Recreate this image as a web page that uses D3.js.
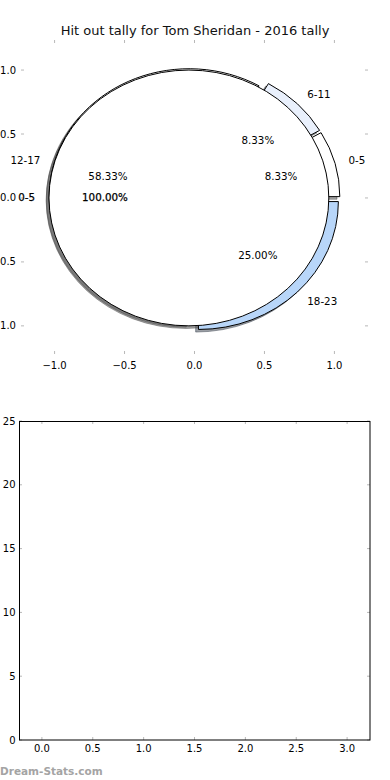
<!DOCTYPE html>
<html>
<head>
<meta charset="utf-8">
<script src="https://cdnjs.cloudflare.com/ajax/libs/d3/7.8.5/d3.min.js"></script>
<style>
  body { margin: 0; background: #fff; }
  svg { display: block; font-family: "DejaVu Sans", sans-serif; }
</style>
</head>
<body>
<svg id="chart" width="390" height="780"></svg>
<script>
// data
var titleText = "Hit out tally for Tom Sheridan - 2016 tally";
var quarterLabels = ["0-5", "6-11", "12-17", "18-23"]; // inner pie slices
var quarterHitouts = [1, 1, 7, 3];
var quarterColors = ["#ffffff", "#e9f0fc", "#ffffff", "#b8d6f9"];
var totalLabels = ["0-5"]; // the single 100% pie drawn on top
var totalHitouts = [12];
var totalColors = ["#ffffff"];
var explodeBy = 0.04;
var pieTicks = [-1, -0.5, 0, 0.5, 1];

var barCategories = [0, 1, 2, 3]; // lower chart is empty
var barValues = [0, 0, 0, 0];
var barXTicks = [0, 0.5, 1, 1.5, 2, 2.5, 3];
var barYTicks = [0, 5, 10, 15, 20, 25];

var svg = d3.select("#chart");
var tickGray = "#b8b8b8";
var fmt = v => d3.format(".1f")(v).replace("-", "\u2212");

svg.append("text").attr("x", 195).attr("y", 35).attr("text-anchor", "middle")
  .attr("font-size", 13).attr("fill", "#111").text(titleText);

// ---------- top: pie axes ----------
var px = d3.scaleLinear().domain([-1.24, 1.24]).range([21, 368]);
var py = d3.scaleLinear().domain([-1.22, 1.235]).range([354, 40]);
var sx = px(1) - px(0), sy = py(0) - py(1);

var pieG = svg.append("g");

// inward gray ticks on all four sides, no frame
pieTicks.forEach(t => {
  pieG.append("line").attr("x1", px(t)).attr("x2", px(t)).attr("y1", 40).attr("y2", 43).attr("stroke", tickGray);
  pieG.append("line").attr("x1", px(t)).attr("x2", px(t)).attr("y1", 354).attr("y2", 351).attr("stroke", tickGray);
  pieG.append("line").attr("y1", py(t)).attr("y2", py(t)).attr("x1", 21).attr("x2", 24).attr("stroke", tickGray);
  pieG.append("line").attr("y1", py(t)).attr("y2", py(t)).attr("x1", 368).attr("x2", 365).attr("stroke", tickGray);
  pieG.append("text").attr("x", px(t)).attr("y", 369).attr("text-anchor", "middle")
    .attr("font-size", 10).text(fmt(t));
  pieG.append("text").attr("x", 16).attr("y", py(t) + 3.5).attr("text-anchor", "end")
    .attr("font-size", 10).text(fmt(t));
});

// matplotlib-style wedges: counterclockwise from 3 o'clock, exploded along mid angle
function buildWedges(labels, values, colors) {
  var total = d3.sum(values), cum = 0;
  return values.map((v, i) => {
    var t1 = cum / total * 2 * Math.PI;
    cum += v;
    var t2 = cum / total * 2 * Math.PI;
    var tm = (t1 + t2) / 2;
    return { label: labels[i], value: v, pct: v / total * 100, color: colors[i],
      t1: t1, t2: t2, tm: tm, cx: explodeBy * Math.cos(tm), cy: explodeBy * Math.sin(tm) };
  });
}

var unitArc = d3.arc().innerRadius(0).outerRadius(1)
  .startAngle(d => Math.PI / 2 - d.t2).endAngle(d => Math.PI / 2 - d.t1);

var innerPie = buildWedges(quarterLabels, quarterHitouts, quarterColors);
var outerPie = buildWedges(totalLabels, totalHitouts, totalColors);
var allWedges = innerPie.concat(outerPie);

function shade(c) {
  var r = d3.rgb(c);
  return d3.rgb(r.r * 0.3, r.g * 0.3, r.b * 0.3).toString();
}

// shadows go under every wedge
pieG.append("g").selectAll("path").data(allWedges).join("path")
  .attr("transform", d => "translate(" + px(d.cx - 0.02) + "," + py(d.cy - 0.02) + ") scale(" + sx + "," + sy + ")")
  .attr("d", unitArc)
  .attr("fill", d => shade(d.color)).attr("fill-opacity", 0.5)
  .attr("stroke", d => shade(d.color)).attr("stroke-opacity", 0.5)
  .attr("vector-effect", "non-scaling-stroke");

pieG.append("g").selectAll("path").data(allWedges).join("path")
  .attr("transform", d => "translate(" + px(d.cx) + "," + py(d.cy) + ") scale(" + sx + "," + sy + ")")
  .attr("d", unitArc)
  .attr("fill", d => d.color).attr("stroke", "#000").attr("stroke-width", 1)
  .attr("vector-effect", "non-scaling-stroke");

function drawLabels(wedges, heavy) {
  wedges.forEach(d => {
    var lx = d.cx + 1.1 * Math.cos(d.tm), ly = d.cy + 1.1 * Math.sin(d.tm);
    pieG.append("text").attr("x", px(lx)).attr("y", py(ly) + 3.5)
      .attr("text-anchor", lx > 0 ? "start" : "end").attr("font-size", 10.3)
      .attr("stroke", heavy ? "#000" : "none").attr("stroke-width", 0.25).text(d.label);
    var qx = d.cx + 0.6 * Math.cos(d.tm), qy = d.cy + 0.6 * Math.sin(d.tm);
    pieG.append("text").attr("x", px(qx)).attr("y", py(qy) + 3.5)
      .attr("text-anchor", "middle").attr("font-size", 10.3)
      .attr("stroke", heavy ? "#000" : "none").attr("stroke-width", 0.25).text(d.pct.toFixed(2) + "%");
  });
}
drawLabels(innerPie, false);
drawLabels(outerPie, true);

// ---------- bottom: empty bar axes ----------
var bx = d3.scaleLinear().domain([-0.225, 3.225]).range([19, 370]);
var by = d3.scaleLinear().domain([0, 25]).range([740, 421]);
var barG = svg.append("g");

barG.selectAll("rect").data(barValues).join("rect")
  .attr("x", (d, i) => bx(barCategories[i] - 0.4)).attr("width", bx(0.8) - bx(0))
  .attr("y", d => by(d)).attr("height", d => by(0) - by(d)).attr("fill", "#b8d6f9");

barXTicks.forEach(t => {
  barG.append("line").attr("x1", bx(t)).attr("x2", bx(t)).attr("y1", 740).attr("y2", 737).attr("stroke", tickGray);
  barG.append("line").attr("x1", bx(t)).attr("x2", bx(t)).attr("y1", 421).attr("y2", 424).attr("stroke", tickGray);
  barG.append("text").attr("x", bx(t)).attr("y", 752).attr("text-anchor", "middle")
    .attr("font-size", 10).text(fmt(t));
});
barYTicks.forEach(t => {
  barG.append("line").attr("y1", by(t)).attr("y2", by(t)).attr("x1", 19).attr("x2", 22).attr("stroke", tickGray);
  barG.append("line").attr("y1", by(t)).attr("y2", by(t)).attr("x1", 370).attr("x2", 367).attr("stroke", tickGray);
  barG.append("text").attr("x", 15.5).attr("y", by(t) + 3.5).attr("text-anchor", "end")
    .attr("font-size", 10).text(t);
});
barG.append("rect").attr("x", 19.5).attr("y", 421.5).attr("width", 350.5).attr("height", 318.5)
  .attr("fill", "none").attr("stroke", "#000").attr("stroke-width", 1);

svg.append("text").attr("x", 0).attr("y", 775).attr("font-size", 10.5).attr("font-weight", "bold")
  .attr("fill", "#a4a4a4").text("Dream-Stats.com");
</script>
</body>
</html>
